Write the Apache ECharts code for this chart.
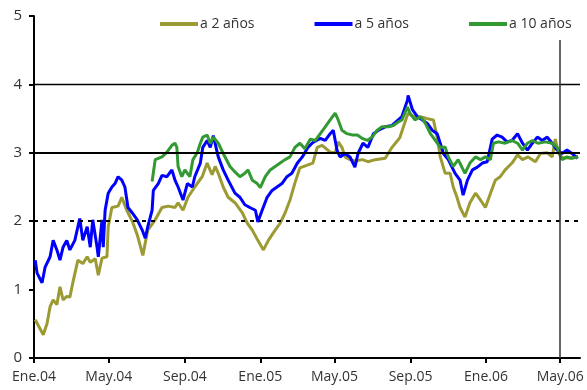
<!DOCTYPE html>
<html>
<head>
<meta charset="utf-8">
<script src="https://cdn.jsdelivr.net/npm/echarts@6/dist/echarts.min.js"></script>
<style>html,body{margin:0;padding:0;background:#fff;}#c{width:587px;height:390px;}</style>
</head>
<body>
<div id="c"></div>
<script>
// x values are days since 1 Jan 2004
const tickDays = [0, 121, 244, 366, 486, 609, 731, 851];
const tickLabels = ["Ene.04", "May.04", "Sep.04", "Ene.05", "May.05", "Sep.05", "Ene.06", "May.06"];
const seriesNames = ["a 2 años", "a 5 años", "a 10 años"];

const days2y = [2,15,21,26,31,37,42,47,53,58,63,71,79,86,91,99,104,110,118,120,126,136,142,150,159,167,176,184,196,207,217,228,233,241,249,260,272,280,288,293,298,306,314,325,337,345,353,362,371,379,387,398,406,414,422,430,442,451,458,466,479,487,492,498,503,511,519,531,540,552,568,579,589,592,600,605,616,628,636,646,652,657,665,673,678,684,689,697,705,714,722,730,738,746,754,762,773,782,790,799,811,819,830,838,843,848,854,867,880];
const vals2y = [0.56,0.34,0.5,0.75,0.85,0.78,1.04,0.85,0.9,0.89,1.11,1.43,1.38,1.48,1.4,1.45,1.21,1.46,1.48,1.92,2.2,2.22,2.35,2.16,2.0,1.8,1.5,1.87,2.02,2.2,2.22,2.2,2.27,2.16,2.35,2.5,2.65,2.85,2.68,2.8,2.7,2.5,2.35,2.27,2.12,1.97,1.87,1.72,1.58,1.72,1.83,1.97,2.12,2.31,2.56,2.78,2.82,2.85,3.08,3.11,3.01,3.0,3.16,3.08,2.94,2.9,2.88,2.9,2.87,2.9,2.92,3.08,3.19,3.23,3.45,3.58,3.52,3.52,3.5,3.48,3.23,2.94,2.7,2.7,2.5,2.35,2.2,2.06,2.27,2.41,2.31,2.2,2.4,2.6,2.65,2.75,2.85,2.97,2.9,2.94,2.87,2.99,3.0,2.94,3.2,3.0,2.93,2.92,2.95];

const days5y = [2,5,13,18,26,31,37,42,47,53,58,66,74,79,86,91,95,102,104,110,112,115,120,126,131,136,142,147,152,159,167,175,180,184,191,193,201,207,215,223,228,233,241,248,256,260,269,273,280,285,290,298,306,314,325,333,341,349,358,362,369,377,385,393,401,409,417,426,434,443,451,463,471,479,484,490,495,503,511,519,524,532,540,549,557,568,579,589,595,604,605,612,620,628,636,644,652,657,662,670,676,681,689,694,701,709,717,725,733,741,749,757,765,773,782,790,798,806,814,822,830,838,846,854,862,870,879];
const vals5y = [1.43,1.24,1.1,1.33,1.48,1.72,1.58,1.43,1.62,1.72,1.58,1.72,2.04,1.72,1.92,1.62,2.02,1.62,1.48,2.02,1.62,2.16,2.41,2.5,2.55,2.65,2.6,2.5,2.2,2.12,2.02,1.87,1.75,1.92,2.16,2.45,2.55,2.67,2.65,2.75,2.6,2.5,2.31,2.55,2.5,2.65,2.85,3.08,3.18,3.08,3.25,2.94,2.75,2.6,2.41,2.35,2.24,2.2,2.16,1.99,2.16,2.35,2.45,2.5,2.55,2.65,2.7,2.85,2.94,3.08,3.15,3.21,3.18,3.28,3.33,3.04,2.94,2.99,2.94,2.79,2.99,3.14,3.08,3.28,3.33,3.38,3.4,3.48,3.53,3.77,3.84,3.63,3.53,3.48,3.43,3.33,3.28,3.14,2.99,2.9,2.79,2.7,2.6,2.38,2.6,2.75,2.79,2.85,2.87,3.2,3.26,3.23,3.16,3.18,3.28,3.14,3.04,3.14,3.23,3.18,3.23,3.14,3.04,2.99,3.04,2.99,2.92];

const days10y = [191,196,199,207,215,223,228,231,233,239,244,252,257,264,269,273,280,285,290,298,306,309,317,325,333,341,346,353,361,366,374,382,390,398,406,414,422,430,438,447,455,463,471,479,487,492,498,506,515,523,531,539,547,555,563,573,581,589,595,604,608,616,625,633,641,649,657,665,670,678,686,692,697,705,714,722,730,738,743,751,762,773,782,790,798,806,815,827,838,846,854,862,870,880];
const vals10y = [2.58,2.9,2.92,2.94,3.01,3.11,3.14,3.08,2.8,2.65,2.75,2.65,2.9,3.0,3.14,3.23,3.26,3.14,3.23,3.14,2.99,2.99,2.8,2.72,2.65,2.7,2.75,2.6,2.55,2.49,2.65,2.75,2.8,2.85,2.9,2.94,3.08,3.14,3.06,3.2,3.18,3.28,3.38,3.48,3.58,3.48,3.33,3.28,3.26,3.26,3.21,3.18,3.23,3.33,3.38,3.38,3.4,3.45,3.48,3.67,3.58,3.48,3.53,3.43,3.28,3.18,3.08,3.08,2.94,2.8,2.9,2.79,2.7,2.85,2.94,2.9,2.94,2.9,3.14,3.16,3.14,3.18,3.14,3.04,3.14,3.18,3.14,3.16,3.14,3.08,2.9,2.94,2.92,2.94];

const colors = ["#9c9a33", "#0000ff", "#339933"];
const font = "'Open Sans', 'Noto Sans', sans-serif";

function pairs(d, v) { return d.map((x, i) => [x, v[i]]); }

const chart = echarts.init(document.getElementById('c'), null, {renderer: 'canvas'});
chart.setOption({
  animation: false,
  backgroundColor: '#fff',
  grid: {left: 34, right: 7, top: 16, bottom: 32, containLabel: false},
  legend: {
    data: seriesNames,
    left: 155, top: 12,
    icon: 'rect', itemWidth: 38, itemHeight: 4, itemGap: 60,
    textStyle: {fontFamily: font, fontSize: 14, color: '#333', padding: [0,0,0,-3]}
  },
  xAxis: {
    type: 'value', min: 0, max: 883,
    axisLine: {show: true, lineStyle: {color: '#000', width: 2}},
    axisTick: {show: true, length: 5, lineStyle: {color: '#000', width: 2}, customValues: tickDays},
    axisLabel: {
      customValues: tickDays, margin: 12,
      fontFamily: font, fontSize: 14, color: '#333',
      formatter: v => tickLabels[tickDays.indexOf(v)] || ''
    },
    splitLine: {show: false}
  },
  yAxis: {
    type: 'value', min: 0, max: 5, interval: 1,
    axisLine: {show: true, lineStyle: {color: '#000', width: 2}},
    axisTick: {show: true, length: 5, lineStyle: {color: '#000', width: 2}},
    axisLabel: {margin: 12, fontFamily: font, fontSize: 15, color: '#333'},
    splitLine: {show: false}
  },
  series: [
    {name: seriesNames[0], type: 'line', data: pairs(days2y, vals2y), showSymbol: false, symbol: 'none',
     lineStyle: {color: colors[0], width: 3}, itemStyle: {color: colors[0]}},
    {name: seriesNames[1], type: 'line', data: pairs(days5y, vals5y), showSymbol: false, symbol: 'none',
     lineStyle: {color: colors[1], width: 3}, itemStyle: {color: colors[1]}},
    {name: seriesNames[2], type: 'line', data: pairs(days10y, vals10y), showSymbol: false, symbol: 'none',
     lineStyle: {color: colors[2], width: 3}, itemStyle: {color: colors[2]}},
    {name: 'ref', type: 'line', data: [], z: 5,
     markLine: {
       silent: true, symbol: 'none', label: {show: false},
       data: [
         {yAxis: 4, lineStyle: {color: '#000', width: 1.3, type: 'solid'}},
         {yAxis: 3, lineStyle: {color: '#000', width: 2, type: 'solid'}},
         {yAxis: 2, lineStyle: {color: '#000', width: 2, type: [4, 5]}},
         [{coord: [851, 0], lineStyle: {color: '#333', width: 1.5, type: 'solid'}}, {coord: [851, 4.65]}]
       ]
     }}
  ]
});
</script>
</body>
</html>
